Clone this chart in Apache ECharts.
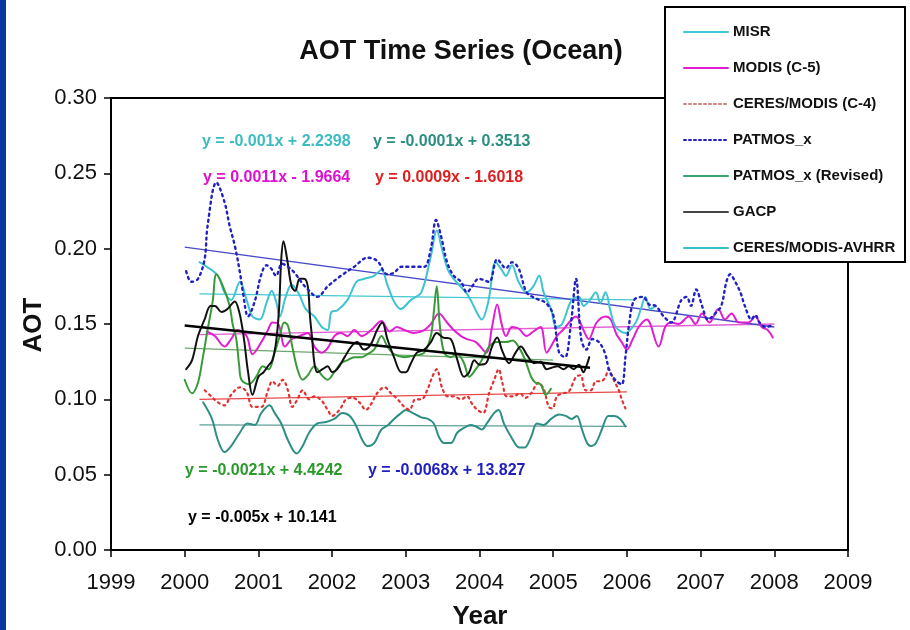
<!DOCTYPE html>
<html><head><meta charset="utf-8">
<script src="https://cdn.jsdelivr.net/npm/echarts@6/dist/echarts.min.js"></script>
<style>html,body{margin:0;padding:0;background:#fff}#c{width:910px;height:630px}</style>
</head><body><div id="c"></div>
<script>
// ---- tick labels ----
const xTicks = [1999,2000,2001,2002,2003,2004,2005,2006,2007,2008,2009];
const yTicks = [0.00,0.05,0.10,0.15,0.20,0.25,0.30];

// ---- series (year, AOT) ----
const MISR = [[2000.20,0.191],[2000.30,0.188],[2000.45,0.182],[2000.54,0.171],[2000.63,0.166],[2000.75,0.178],[2000.84,0.166],[2000.92,0.155],[2001.02,0.153],[2001.11,0.164],[2001.18,0.172],[2001.24,0.165],[2001.29,0.155],[2001.37,0.168],[2001.45,0.176],[2001.55,0.170],[2001.64,0.160],[2001.76,0.155],[2001.86,0.148],[2001.94,0.146],[2001.99,0.158],[2002.07,0.159],[2002.21,0.166],[2002.33,0.178],[2002.44,0.180],[2002.57,0.182],[2002.67,0.186],[2002.75,0.176],[2002.84,0.165],[2002.93,0.160],[2003.07,0.166],[2003.21,0.171],[2003.34,0.195],[2003.42,0.212],[2003.49,0.200],[2003.57,0.186],[2003.65,0.180],[2003.74,0.175],[2003.83,0.170],[2003.90,0.164],[2003.96,0.158],[2004.03,0.153],[2004.12,0.165],[2004.22,0.191],[2004.30,0.186],[2004.36,0.182],[2004.44,0.189],[2004.53,0.178],[2004.64,0.171],[2004.73,0.175],[2004.81,0.182],[2004.87,0.171],[2004.97,0.160],[2005.04,0.148],[2005.12,0.150],[2005.25,0.166],[2005.35,0.168],[2005.41,0.162],[2005.50,0.166],[2005.58,0.171],[2005.64,0.164],[2005.71,0.171],[2005.78,0.158],[2005.85,0.148],[2005.98,0.144],[2006.12,0.151],[2006.19,0.160],[2006.25,0.168],[2006.32,0.160],[2006.39,0.162]];

const MODIS = [[2000.30,0.145],[2000.41,0.142],[2000.54,0.135],[2000.63,0.140],[2000.72,0.146],[2000.84,0.142],[2000.92,0.130],[2001.04,0.138],[2001.13,0.146],[2001.19,0.151],[2001.27,0.150],[2001.36,0.135],[2001.45,0.140],[2001.56,0.142],[2001.67,0.144],[2001.76,0.135],[2001.86,0.131],[2001.94,0.134],[2002.03,0.142],[2002.12,0.144],[2002.21,0.142],[2002.30,0.146],[2002.40,0.142],[2002.53,0.146],[2002.67,0.152],[2002.78,0.145],[2002.88,0.148],[2002.98,0.146],[2003.11,0.144],[2003.25,0.146],[2003.34,0.150],[2003.45,0.157],[2003.56,0.151],[2003.65,0.146],[2003.75,0.142],[2003.83,0.140],[2003.95,0.138],[2004.09,0.131],[2004.17,0.148],[2004.24,0.163],[2004.30,0.150],[2004.36,0.142],[2004.44,0.148],[2004.53,0.147],[2004.64,0.142],[2004.73,0.145],[2004.83,0.148],[2004.91,0.131],[2004.98,0.136],[2005.05,0.142],[2005.15,0.147],[2005.25,0.153],[2005.31,0.155],[2005.41,0.146],[2005.48,0.140],[2005.59,0.151],[2005.71,0.155],[2005.78,0.153],[2005.86,0.143],[2005.93,0.138],[2006.00,0.133],[2006.08,0.140],[2006.16,0.148],[2006.27,0.153],[2006.43,0.135],[2006.52,0.148],[2006.60,0.151],[2006.70,0.150],[2006.84,0.155],[2006.93,0.150],[2007.02,0.157],[2007.12,0.151],[2007.24,0.160],[2007.33,0.153],[2007.42,0.157],[2007.52,0.151],[2007.65,0.151],[2007.74,0.155],[2007.83,0.148],[2007.91,0.146],[2007.98,0.141]];

const CERES_C4 = [[2000.27,0.106],[2000.36,0.102],[2000.45,0.098],[2000.54,0.096],[2000.63,0.103],[2000.75,0.108],[2000.84,0.105],[2000.92,0.095],[2001.04,0.095],[2001.13,0.106],[2001.19,0.112],[2001.26,0.109],[2001.33,0.113],[2001.40,0.106],[2001.46,0.095],[2001.53,0.100],[2001.60,0.106],[2001.69,0.100],[2001.76,0.102],[2001.86,0.099],[2001.94,0.093],[2002.00,0.089],[2002.10,0.093],[2002.19,0.100],[2002.28,0.101],[2002.37,0.098],[2002.46,0.093],[2002.53,0.097],[2002.61,0.104],[2002.71,0.108],[2002.80,0.104],[2002.89,0.100],[2002.98,0.095],[2003.05,0.093],[2003.13,0.100],[2003.21,0.100],[2003.29,0.106],[2003.36,0.115],[2003.42,0.120],[2003.49,0.108],[2003.57,0.102],[2003.65,0.102],[2003.75,0.100],[2003.83,0.102],[2003.90,0.097],[2003.97,0.093],[2004.05,0.091],[2004.13,0.104],[2004.20,0.113],[2004.26,0.120],[2004.31,0.111],[2004.37,0.102],[2004.46,0.102],[2004.55,0.104],[2004.62,0.101],[2004.70,0.104],[2004.80,0.111],[2004.87,0.107],[2004.94,0.095],[2004.99,0.094],[2005.05,0.102],[2005.13,0.104],[2005.21,0.105],[2005.31,0.115],[2005.37,0.116],[2005.44,0.106],[2005.51,0.106],[2005.58,0.112],[2005.65,0.112],[2005.71,0.115],[2005.75,0.120],[2005.82,0.113],[2005.89,0.106],[2005.93,0.100],[2005.98,0.094]];

const PATMOS = [[2000.02,0.185],[2000.09,0.178],[2000.18,0.180],[2000.27,0.193],[2000.31,0.215],[2000.43,0.244],[2000.54,0.231],[2000.61,0.215],[2000.68,0.202],[2000.75,0.184],[2000.79,0.171],[2000.86,0.155],[2000.95,0.165],[2001.04,0.183],[2001.11,0.189],[2001.17,0.187],[2001.24,0.182],[2001.32,0.190],[2001.40,0.188],[2001.49,0.184],[2001.58,0.178],[2001.67,0.173],[2001.80,0.168],[2001.94,0.175],[2002.12,0.182],[2002.30,0.188],[2002.48,0.194],[2002.61,0.192],[2002.75,0.183],[2002.84,0.184],[2002.94,0.188],[2003.11,0.188],[2003.25,0.188],[2003.34,0.200],[2003.41,0.219],[2003.48,0.208],[2003.56,0.191],[2003.65,0.182],[2003.75,0.178],[2003.83,0.171],[2003.90,0.175],[2003.99,0.180],[2004.13,0.178],[2004.24,0.193],[2004.36,0.187],[2004.44,0.191],[2004.53,0.187],[2004.64,0.171],[2004.76,0.167],[2004.90,0.164],[2005.00,0.156],[2005.08,0.131],[2005.16,0.128],[2005.24,0.150],[2005.31,0.180],[2005.38,0.140],[2005.45,0.133],[2005.53,0.140],[2005.62,0.138],[2005.70,0.131],[2005.77,0.118],[2005.86,0.112],[2005.93,0.110],[2005.98,0.128],[2006.03,0.150],[2006.10,0.166],[2006.22,0.168],[2006.30,0.163],[2006.39,0.162],[2006.50,0.155],[2006.60,0.151],[2006.74,0.166],[2006.81,0.168],[2006.87,0.162],[2006.94,0.173],[2007.02,0.162],[2007.10,0.153],[2007.20,0.157],[2007.28,0.162],[2007.35,0.178],[2007.40,0.183],[2007.47,0.178],[2007.54,0.171],[2007.60,0.162],[2007.69,0.153],[2007.74,0.156],[2007.80,0.151],[2007.88,0.148],[2007.97,0.149]];

const PATMOS_REV = [[2000.00,0.113],[2000.10,0.104],[2000.18,0.111],[2000.24,0.126],[2000.31,0.146],[2000.38,0.165],[2000.43,0.183],[2000.52,0.175],[2000.61,0.162],[2000.65,0.150],[2000.70,0.140],[2000.74,0.122],[2000.77,0.113],[2000.87,0.110],[2000.97,0.115],[2001.06,0.122],[2001.14,0.120],[2001.22,0.131],[2001.29,0.142],[2001.35,0.151],[2001.40,0.149],[2001.46,0.135],[2001.53,0.120],[2001.60,0.113],[2001.67,0.116],[2001.76,0.122],[2001.86,0.116],[2001.94,0.113],[2002.03,0.118],[2002.12,0.124],[2002.21,0.126],[2002.30,0.128],[2002.40,0.128],[2002.48,0.130],[2002.57,0.133],[2002.67,0.142],[2002.75,0.135],[2002.84,0.130],[2002.98,0.128],[2003.11,0.129],[2003.25,0.131],[2003.34,0.142],[2003.38,0.158],[2003.42,0.175],[2003.46,0.150],[2003.52,0.131],[2003.61,0.128],[2003.70,0.130],[2003.79,0.124],[2003.86,0.115],[2003.95,0.120],[2004.03,0.126],[2004.13,0.135],[2004.24,0.138],[2004.36,0.138],[2004.45,0.139],[2004.54,0.134],[2004.62,0.126],[2004.70,0.115],[2004.76,0.111],[2004.83,0.110],[2004.90,0.103],[2004.97,0.107]];

const GACP = [[2000.02,0.120],[2000.10,0.126],[2000.18,0.142],[2000.27,0.153],[2000.35,0.162],[2000.41,0.162],[2000.50,0.158],[2000.58,0.160],[2000.68,0.165],[2000.74,0.158],[2000.78,0.148],[2000.81,0.138],[2000.86,0.118],[2000.92,0.103],[2001.00,0.115],[2001.07,0.118],[2001.13,0.122],[2001.19,0.126],[2001.24,0.138],[2001.28,0.160],[2001.31,0.193],[2001.34,0.205],[2001.39,0.193],[2001.45,0.175],[2001.50,0.172],[2001.56,0.180],[2001.62,0.180],[2001.67,0.175],[2001.70,0.155],[2001.73,0.140],[2001.76,0.124],[2001.80,0.118],[2001.87,0.120],[2001.94,0.122],[2002.00,0.118],[2002.07,0.120],[2002.17,0.128],[2002.26,0.135],[2002.34,0.138],[2002.43,0.133],[2002.52,0.136],[2002.61,0.146],[2002.68,0.151],[2002.75,0.140],[2002.84,0.128],[2002.94,0.118],[2003.00,0.118],[2003.07,0.124],[2003.15,0.131],[2003.25,0.133],[2003.34,0.138],[2003.42,0.144],[2003.51,0.141],[2003.61,0.140],[2003.70,0.126],[2003.79,0.115],[2003.86,0.118],[2003.93,0.126],[2004.00,0.123],[2004.09,0.124],[2004.17,0.135],[2004.24,0.141],[2004.31,0.132],[2004.40,0.124],[2004.49,0.131],[2004.56,0.135],[2004.65,0.129],[2004.74,0.124],[2004.83,0.125],[2004.91,0.120],[2004.98,0.121],[2005.06,0.122],[2005.14,0.120],[2005.21,0.122],[2005.28,0.120],[2005.35,0.123],[2005.41,0.118],[2005.45,0.122],[2005.49,0.128]];

const CERES_AVHRR = [[2000.25,0.098],[2000.37,0.087],[2000.45,0.073],[2000.54,0.065],[2000.63,0.069],[2000.75,0.078],[2000.85,0.084],[2000.95,0.083],[2001.04,0.091],[2001.15,0.096],[2001.22,0.091],[2001.31,0.084],[2001.40,0.073],[2001.52,0.064],[2001.60,0.069],[2001.69,0.078],[2001.80,0.084],[2001.92,0.085],[2002.03,0.087],[2002.14,0.091],[2002.24,0.089],[2002.33,0.082],[2002.41,0.073],[2002.48,0.069],[2002.57,0.071],[2002.67,0.080],[2002.76,0.083],[2002.84,0.087],[2002.94,0.091],[2003.00,0.093],[2003.09,0.091],[2003.21,0.088],[2003.30,0.087],[2003.38,0.084],[2003.45,0.075],[2003.52,0.071],[2003.61,0.071],[2003.70,0.078],[2003.79,0.081],[2003.88,0.083],[2003.95,0.082],[2004.03,0.080],[2004.10,0.084],[2004.20,0.091],[2004.26,0.093],[2004.33,0.084],[2004.43,0.075],[2004.54,0.068],[2004.61,0.068],[2004.70,0.075],[2004.78,0.084],[2004.87,0.083],[2004.97,0.087],[2005.08,0.090],[2005.17,0.089],[2005.25,0.087],[2005.32,0.089],[2005.39,0.080],[2005.46,0.071],[2005.51,0.069],[2005.58,0.071],[2005.66,0.080],[2005.75,0.089],[2005.83,0.089],[2005.91,0.087],[2005.98,0.082]];

// ---- linear trend lines (start, end) ----
const MISR_TREND = [[2000.2,0.170],[2006.1,0.166]];
const MODIS_TREND = [[2000.2,0.143],[2008.0,0.150]];
const CERES_C4_TREND = [[2000.2,0.100],[2006.0,0.105]];
const PATMOS_TREND = [[2000.0,0.201],[2008.0,0.148]];
const PATMOS_REV_TREND = [[2000.0,0.134],[2005.0,0.126]];
const GACP_TREND = [[2000.0,0.149],[2005.5,0.121]];
const CERES_AVHRR_TREND = [[2000.2,0.083],[2006.0,0.082]];

// ---- texts ----
const seriesNames = ['MISR','MODIS (C-5)','CERES/MODIS (C-4)','PATMOS_x','PATMOS_x (Revised)','GACP','CERES/MODIS-AVHRR'];
const equations = ['y = -0.001x + 2.2398','y = -0.0001x + 0.3513','y = 0.0011x - 1.9664','y = 0.0009x - 1.6018','y = -0.0021x + 4.4242','y = -0.0068x + 13.827','y = -0.005x + 10.141'];

const C = {
  misr:'#3ec3d3', modis:'#e21fd0', c4:'#e53030', patmos:'#2222c4', rev:'#3a9a3a', gacp:'#111111', avhrr:'#2e8f84'
};

function line(name, data, color, width, type, z) {
  return { name, type:'line', data, symbol:'none', smooth:0.35,
    z: z, silent:true,
    lineStyle:{ color, width, type: type || 'solid', cap:'round' } };
}
function trend(data, color, width) {
  return { type:'line', data, symbol:'none', silent:true, z:1,
    lineStyle:{ color, width: width || 1.3 } };
}

const series = [
  trend(MISR_TREND, '#46c8d2'),
  trend(MODIS_TREND, '#e25cd4'),
  trend(CERES_C4_TREND, '#e84848'),
  trend(PATMOS_TREND, '#4a4ac8'),
  trend(PATMOS_REV_TREND, '#6aa86a'),
  trend(CERES_AVHRR_TREND, '#5f9f98'),
  line(seriesNames[6], CERES_AVHRR, C.avhrr, 2, 'solid', 2),
  line(seriesNames[2], CERES_C4, C.c4, 2.2, [2,4], 3),
  line(seriesNames[1], MODIS, C.modis, 2, 'solid', 3),
  line(seriesNames[0], MISR, C.misr, 2, 'solid', 3),
  line(seriesNames[4], PATMOS_REV, C.rev, 2, 'solid', 4),
  line(seriesNames[5], GACP, C.gacp, 2, 'solid', 5),
  line(seriesNames[3], PATMOS, C.patmos, 2.4, [2,4], 6),
  trend(GACP_TREND, '#000', 2.5)
];
series[series.length-1].z = 7;

const legendColors = ['#3ec8d8','#e21fd0','#d08080','#2222c4','#3fa070','#444444','#36c0c8'];
const legendTypes = ['solid','solid',[2,3],[2,3],'solid','solid','solid'];

const eqStyle = [
  {c:'#3bbcc0', x:202, y:142},
  {c:'#2a8f80', x:373, y:142},
  {c:'#e010d0', x:203, y:178},
  {c:'#e02020', x:375, y:178},
  {c:'#2a9a2a', x:185, y:471},
  {c:'#2020c0', x:368, y:471},
  {c:'#000000', x:188, y:518}
];

const chart = echarts.init(document.getElementById('c'), null, {renderer:'canvas'});
chart.setOption({
  animation:false,
  backgroundColor:'#ffffff',
  grid:{ left:111, right:62, top:98, bottom:80, show:true, borderColor:'#000', borderWidth:2, backgroundColor:'transparent' },
  xAxis:{ type:'value', min:xTicks[0], max:xTicks[xTicks.length-1], interval:1,
    axisLine:{ lineStyle:{ color:'#000', width:2 } },
    axisTick:{ show:true, length:7, lineStyle:{ color:'#000', width:1.5 } },
    axisLabel:{ color:'#111', fontSize:22, fontFamily:'Liberation Sans, Arial, sans-serif', margin:22, formatter:v=>String(v) },
    splitLine:{ show:false } },
  yAxis:{ type:'value', min:yTicks[0], max:yTicks[yTicks.length-1], interval:0.05,
    axisLine:{ show:true, lineStyle:{ color:'#000', width:2 } },
    axisTick:{ show:true, length:7, lineStyle:{ color:'#000', width:1.5 } },
    axisLabel:{ color:'#111', fontSize:22, fontFamily:'Liberation Sans, Arial, sans-serif', margin:14, formatter:v=>v.toFixed(2) },
    splitLine:{ show:false } },
  legend:{
    show:true, orient:'vertical', left:678, top:19, z:60,
    itemWidth:44, itemHeight:14, itemGap:20, selectedMode:false,
    textStyle:{ fontSize:15, fontWeight:'bold', color:'#111', fontFamily:'Liberation Sans', lineHeight:16 },
    data: seriesNames.map((n,i)=>({ name:n,
      itemStyle:{ color:'rgba(0,0,0,0)', borderWidth:0, opacity:0 },
      lineStyle:{ color:legendColors[i], width:2, type:legendTypes[i] } }))
  },
  graphic:[
    { type:'rect', z:50, shape:{ x:0, y:0, width:6, height:630 }, style:{ fill:'#0a36a2' } },
    { type:'rect', z:50, shape:{ x:665, y:7, width:240, height:255 }, style:{ fill:'#fff', stroke:'#000', lineWidth:2 } },
    { type:'text', z:55, x:461, y:52, style:{ text:'AOT Time Series (Ocean)', fill:'#111', font:'bold 27px "Liberation Sans", Arial, sans-serif', textAlign:'center', textVerticalAlign:'middle' } },
    { type:'text', z:55, x:34, y:325, rotation:Math.PI/2, style:{ text:'AOT', fill:'#111', font:'bold 26px "Liberation Sans", Arial, sans-serif', textAlign:'center', textVerticalAlign:'middle' } },
    { type:'text', z:55, x:480, y:617, style:{ text:'Year', fill:'#111', font:'bold 26px "Liberation Sans", Arial, sans-serif', textAlign:'center', textVerticalAlign:'middle' } }
  ].concat(equations.map((t,i)=>({ type:'text', z:55, x:eqStyle[i].x, y:eqStyle[i].y,
      style:{ text:t, fill:eqStyle[i].c, font:'bold 16px "Liberation Sans", Arial, sans-serif', textAlign:'left', textVerticalAlign:'middle' } }))),
  series
});
</script></body></html>
